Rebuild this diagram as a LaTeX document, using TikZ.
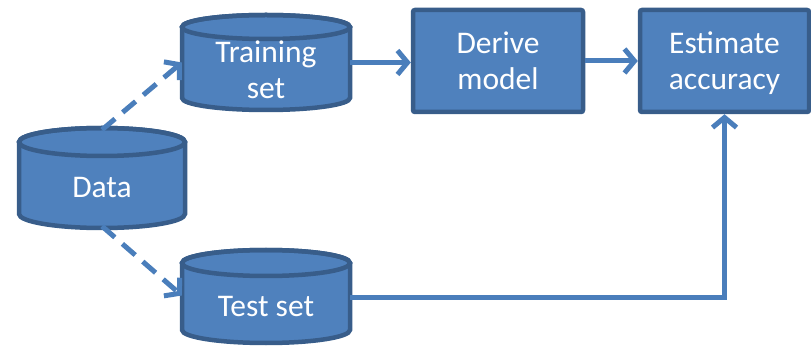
\documentclass[tikz,border=0pt]{standalone}
\usepackage{fontspec}
\setmainfont{Carlito}
\usetikzlibrary{arrows.meta}
\definecolor{boxfill}{HTML}{4F81BD}
\definecolor{boxline}{HTML}{385D8A}
\definecolor{arrowc}{HTML}{4A7EBB}
\tikzset{
  shapeline/.style={draw=boxline, fill=boxfill, line width=4.5pt},
  procbox/.style={shapeline, rounded corners=2pt, inner sep=0pt, align=center, text=white,
    font=\fontsize{31.5}{36}\selectfont},
  holder/.style={inner sep=0pt, draw=none},
  lbl/.style={text=white, align=center, font=\fontsize{31.5}{36}\selectfont},
  conn/.style={draw=arrowc, line width=5pt, -{Straight Barb[length=10pt,width=24pt,line width=5pt]}},
  dconn/.style={conn, dash pattern=on 17pt off 10pt},
}
% cylinder: \mycyl{cx}{rx}{top ellipse centre y}{bottom ellipse centre y}{ry}
\newcommand{\mycyl}[5]{%
  \path[shapeline] ({#1-#2},#3) -- ({#1-#2},#4)
     arc[start angle=180,end angle=0,x radius=#2,y radius=#5]
     -- ({#1+#2},#3)
     arc[start angle=0,end angle=-180,x radius=#2,y radius=#5] -- cycle;
  \draw[boxline, line width=4.5pt] (#1,#3) ellipse[x radius=#2, y radius=#5];
}
\begin{document}
\begin{tikzpicture}[x=1pt,y=-1pt]
\useasboundingbox (0,0) rectangle (811,347);
% cylinders
\mycyl{102}{83}{142}{214}{14}
\node[holder, minimum width=166pt, minimum height=100pt] (data) at (102,178) {};
\node[lbl] (datal) at (102,188) {Data};

\mycyl{266}{84}{27}{98}{12}
\node[holder, minimum width=168pt, minimum height=95pt] (train) at (266,62.5) {};
\node[lbl] (trainl) at (266,70) {Training\\set};

\mycyl{266}{84}{263}{330}{13}
\node[holder, minimum width=168pt, minimum height=93pt] (test) at (266,296.5) {};
\node[lbl] (testl) at (266,307) {Test set};

% process boxes
\node[procbox, minimum width=170pt, minimum height=102pt] (derive) at (498,61) {Derive\\model};
\node[procbox, minimum width=169pt, minimum height=102pt] (est) at (724.5,61) {};
\node[lbl] (estl) at (724.5,63) {Estimate\\accuracy};

% connectors
\draw[dconn] ([yshift=-2pt]data.north) -- (train.west);
\draw[dconn] ([yshift=2pt]data.south) -- ([yshift=1pt]test.west);
\draw[conn] (train.east) -- (train.east -| derive.west);
\draw[conn] (derive.east) -- (est.west);
\draw[conn] ([yshift=-1.5pt]test.east) -| (est.south);
\end{tikzpicture}
\end{document}
